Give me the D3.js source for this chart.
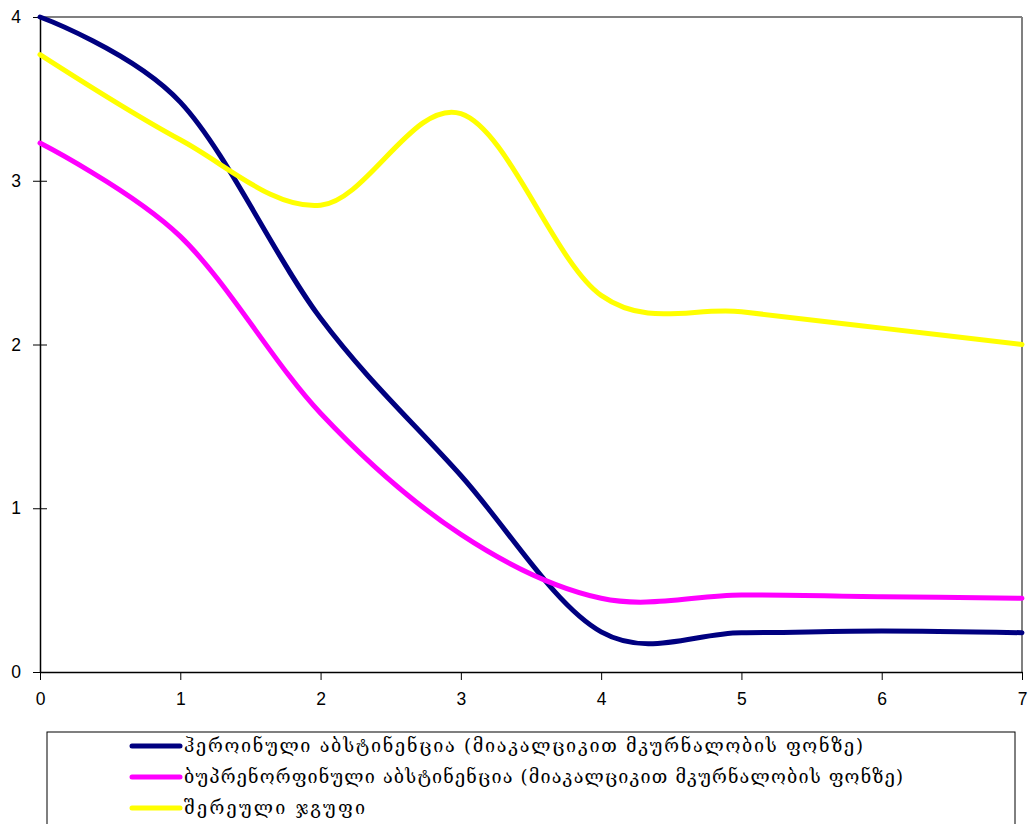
<!DOCTYPE html>
<html>
<head>
<meta charset="utf-8">
<script src="https://cdn.jsdelivr.net/npm/d3@7"></script>
<style>
  html, body { margin: 0; padding: 0; background: #fff; }
  svg { display: block; }
</style>
</head>
<body>
<svg id="chart" width="1029" height="824"></svg>
<script>
// Days of observation
const days = [0, 1, 2, 3, 4, 5, 6, 7];

// Series values per day
const heroinValues = [4.0, 3.48, 2.16, 1.2, 0.245, 0.24, 0.25, 0.24];
const buprenorphineValues = [3.23, 2.66, 1.58, 0.84, 0.45, 0.47, 0.46, 0.45];
const mixedValues = [3.77, 3.25, 2.85, 3.41, 2.30, 2.20, 2.10, 2.0];

const seriesNames = [
  "ჰეროინული აბსტინენცია (მიაკალციკით მკურნალობის ფონზე)",
  "ბუპრენორფინული აბსტინენცია (მიაკალციკით მკურნალობის ფონზე)",
  "შერეული ჯგუფი"
];
const seriesColors = ["#000080", "#ff00ff", "#ffff00"];

const xTicks = [0, 1, 2, 3, 4, 5, 6, 7];
const yTicks = [0, 1, 2, 3, 4];

const series = [heroinValues, buprenorphineValues, mixedValues].map((vals, i) => ({
  name: seriesNames[i],
  color: seriesColors[i],
  points: days.map((d, j) => ({ x: d, y: vals[j] }))
}));

const svg = d3.select("#chart");
const plotLeft = 40, plotRight = 1022, plotTop = 17, plotBottom = 672;

const x = d3.scaleLinear().domain([0, 7]).range([plotLeft, plotRight]);
const y = d3.scaleLinear().domain([0, 4]).range([plotBottom, plotTop]);

// Plot frame: grey top and right edges
svg.append("line").attr("x1", plotLeft).attr("x2", plotRight).attr("y1", plotTop).attr("y2", plotTop)
  .attr("stroke", "#808080").attr("stroke-width", 2);
svg.append("line").attr("x1", plotRight).attr("x2", plotRight).attr("y1", plotTop).attr("y2", plotBottom)
  .attr("stroke", "#808080").attr("stroke-width", 2);

// Axes
const yAxis = d3.axisLeft(y).tickValues(yTicks).tickFormat(d3.format("d")).tickSizeInner(7).tickSizeOuter(0).tickPadding(12);
const gy = svg.append("g").attr("transform", `translate(${plotLeft},0)`).call(yAxis);
gy.selectAll(".tick line").attr("x2", 7).attr("x1", -7);

const xAxis = d3.axisBottom(x).tickValues(xTicks).tickFormat(d3.format("d")).tickSizeInner(8).tickSizeOuter(0).tickPadding(13);
const gx = svg.append("g").attr("transform", `translate(0,${plotBottom})`).call(xAxis);

[gx, gy].forEach(g => {
  g.select(".domain").attr("stroke", "#000").attr("stroke-width", 1.5);
  g.selectAll(".tick line").attr("stroke", "#000").attr("stroke-width", 1);
  g.selectAll(".tick text").attr("font-family", "Liberation Sans, Arial, sans-serif")
    .attr("font-size", 17.5).attr("fill", "#000");
});

// Smoothed series lines
const line = d3.line()
  .x(d => x(d.x))
  .y(d => y(d.y))
  .curve(d3.curveCardinal.tension(0));

svg.append("g").selectAll("path")
  .data(series)
  .join("path")
  .attr("d", d => line(d.points))
  .attr("fill", "none")
  .attr("stroke", d => d.color)
  .attr("stroke-width", 5)
  .attr("stroke-linejoin", "round")
  .attr("stroke-linecap", "round");

// Legend
const legend = svg.append("g");
legend.append("rect")
  .attr("x", 47).attr("y", 732).attr("width", 968).attr("height", 110)
  .attr("fill", "#fff").attr("stroke", "#000").attr("stroke-width", 1);

const rowY = [746, 777, 808];
const labelWidths = [679, 719, 181];
const items = legend.selectAll("g.item").data(series).join("g").attr("class", "item")
  .attr("transform", (d, i) => `translate(0,${rowY[i]})`);
items.append("line").attr("x1", 132).attr("x2", 180).attr("y1", 0).attr("y2", 0)
  .attr("stroke", d => d.color).attr("stroke-width", 5).attr("stroke-linecap", "round");
items.append("text").attr("x", 184).attr("y", 0).attr("dy", "0.32em")
  .attr("font-family", "DejaVu Serif, DejaVu Sans, serif").attr("font-size", 18)
  .attr("fill", "#000")
  .attr("textLength", (d, i) => labelWidths[i])
  .attr("lengthAdjust", "spacing")
  .text(d => d.name);
</script>
</body>
</html>
